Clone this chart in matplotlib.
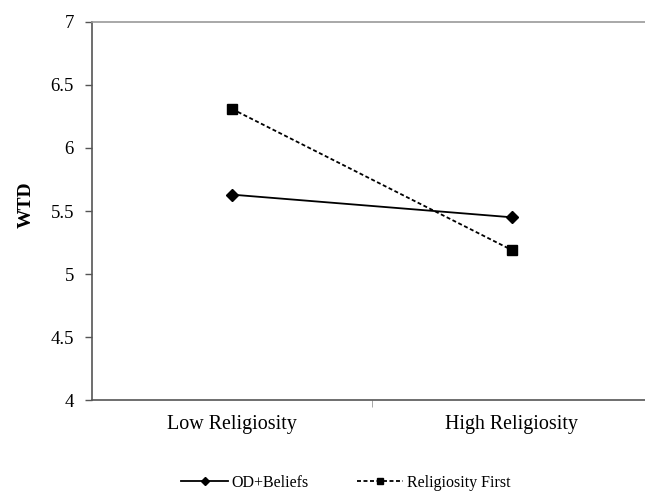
import matplotlib
matplotlib.use("Agg")
import matplotlib.pyplot as plt
from matplotlib.ticker import FixedLocator

plt.rcParams['font.family'] = ['Liberation Serif', 'DejaVu Serif']

# data
groups = ['Low Religiosity', 'High Religiosity']
od_beliefs = [5.63, 5.45]
religiosity_first = [6.31, 5.19]
yticks = [4, 4.5, 5, 5.5, 6, 6.5, 7]
ytick_labels = ['4', '4.5', '5', '5.5', '6', '6.5', '7']

fig = plt.figure(figsize=(6.45, 4.93), dpi=100)
ax = fig.add_axes([0.1426, 0.1886, 0.868, 0.7668])

x = list(range(len(groups)))
ax.plot(x, od_beliefs, color='black', lw=1.3, marker='D', ms=6,
        label='OD+Beliefs')
ax.plot(x, religiosity_first, color='black', lw=1.3, ls=(0, (2.2, 1.4)),
        marker='s', ms=6.5, label='Religiosity First')

ax.set_xlim(-0.5, 1.5)
ax.set_ylim(4, 7)
ax.set_yticks(yticks)
ax.set_yticklabels(ytick_labels)
ax.set_xticks(x)
ax.set_xticklabels(groups)
ax.xaxis.set_minor_locator(FixedLocator([0.5]))

ax.tick_params(axis='x', which='major', length=0, pad=11, labelsize=14.4)
ax.tick_params(axis='x', which='minor', length=5, color='#999999')
ax.tick_params(axis='y', length=5, width=1, color='#555555', pad=8,
               labelsize=13.5)

ax.spines['right'].set_visible(False)
ax.spines['top'].set_color('#999999')
ax.spines['top'].set_linewidth(1.2)
for s in ['left', 'bottom']:
    ax.spines[s].set_color('#555555')
    ax.spines[s].set_linewidth(1.2)

fig.text(26 / 645, 1 - 205 / 493, 'WTD', rotation=90, fontsize=14,
         fontweight='bold', ha='center', va='center')

fig.legend(loc='center', bbox_to_anchor=(346 / 645, 10 / 493), ncol=2,
           frameon=False, fontsize=11.5, handlelength=2.9, columnspacing=3.0,
           handletextpad=0.25, markerscale=0.65)

fig.savefig('out.png', dpi=100)
